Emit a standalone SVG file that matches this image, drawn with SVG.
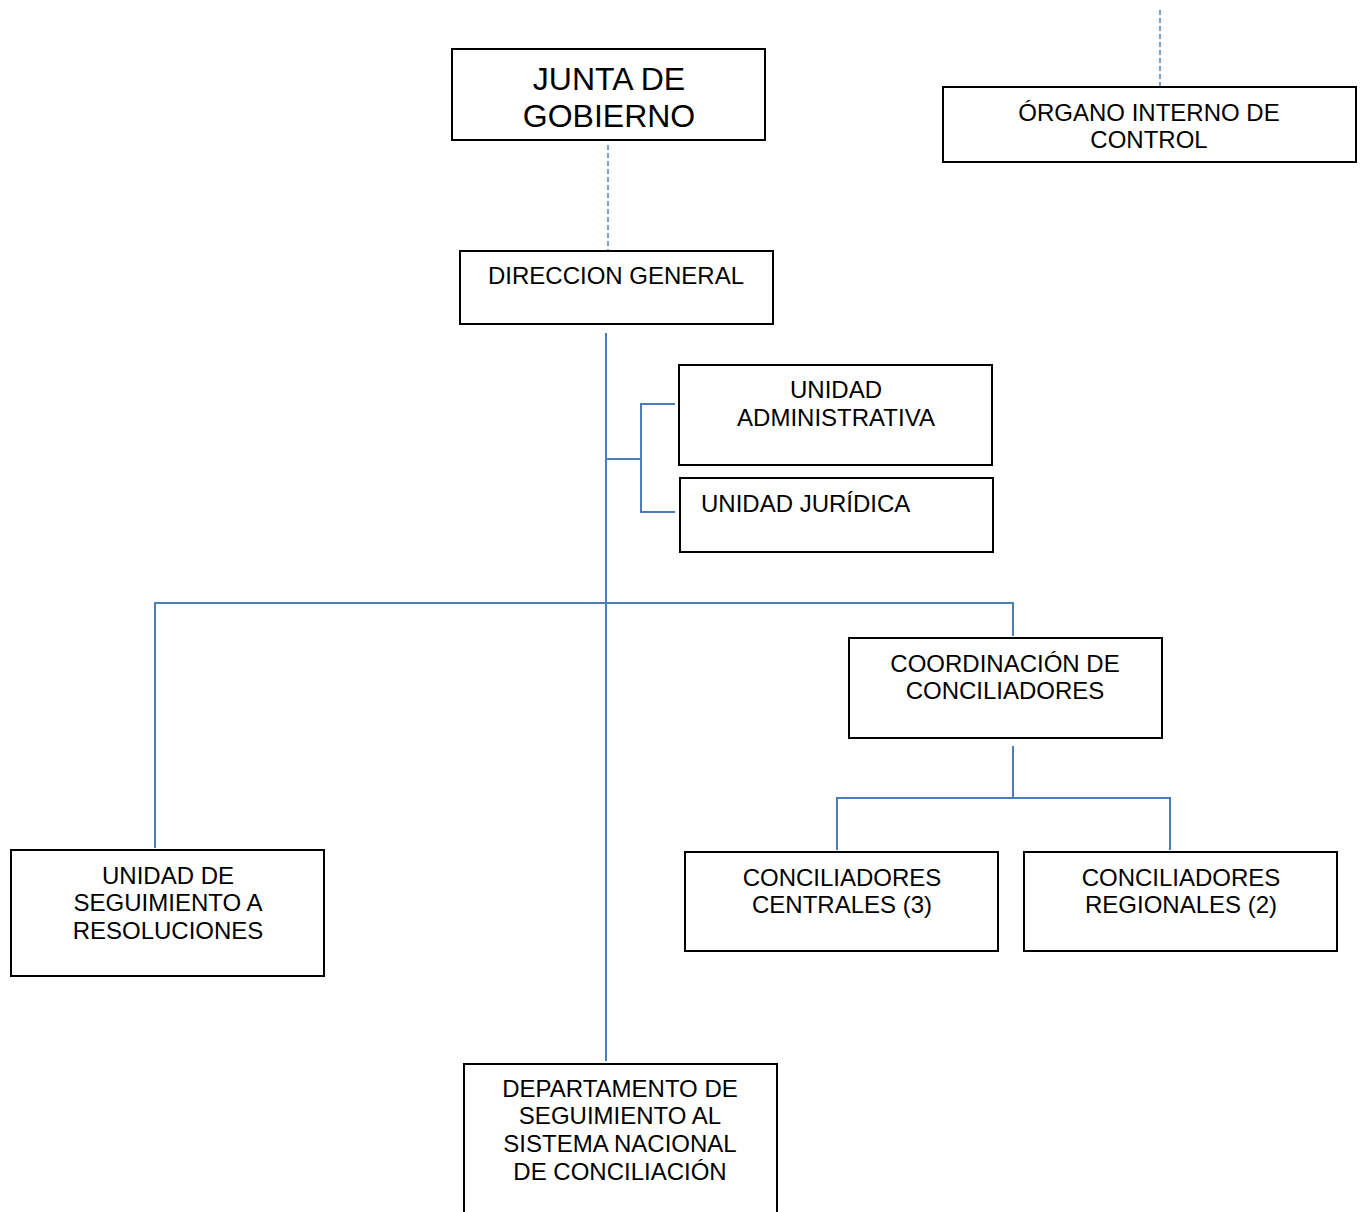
<svg xmlns="http://www.w3.org/2000/svg" width="1363" height="1212" viewBox="0 0 1363 1212">
<style>
.box{fill:#fff;stroke:#000;stroke-width:2}
.t{font-family:"Liberation Sans",Arial,sans-serif;font-size:24px;fill:#000;text-anchor:middle}
.big{font-size:32px}
.ln{stroke:#4a7ebb;stroke-width:2;fill:none}
.dash{stroke:#4a7ebb;stroke-width:1.5;fill:none;stroke-dasharray:5,3}
</style>
<rect width="1363" height="1212" fill="#fff"/>
<g id="connectors">
<line class="dash" x1="608" y1="145" x2="608" y2="250"/>
<line class="dash" x1="1160" y1="10" x2="1160" y2="87"/>
<line class="ln" x1="606" y1="333" x2="606" y2="1061"/>
<polyline class="ln" points="606,459 641,459"/>
<polyline class="ln" points="675,404 641,404 641,512 675,512"/>
<polyline class="ln" points="155,848 155,603 1013,603 1013,636"/>
<line class="ln" x1="1013" y1="746" x2="1013" y2="799"/>
<polyline class="ln" points="837,850 837,798 1170,798 1170,850"/>
</g>
<g id="junta">
<rect class="box" x="452" y="49" width="313" height="91"/>
<text class="t big" x="609" y="90">JUNTA DE</text>
<text class="t big" x="609" y="127">GOBIERNO</text>
</g>
<g id="organo">
<rect class="box" x="943" y="87" width="413" height="75"/>
<text class="t" x="1149" y="121">ÓRGANO INTERNO DE</text>
<text class="t" x="1149" y="148">CONTROL</text>
</g>
<g id="direccion">
<rect class="box" x="460" y="251" width="313" height="73"/>
<text class="t" x="616" y="284">DIRECCION GENERAL</text>
</g>
<g id="unidad-administrativa">
<rect class="box" x="679" y="365" width="313" height="100"/>
<text class="t" x="836" y="398">UNIDAD</text>
<text class="t" x="836" y="426">ADMINISTRATIVA</text>
</g>
<g id="unidad-juridica">
<rect class="box" x="680" y="478" width="313" height="74"/>
<text class="t" x="701" y="512" style="text-anchor:start">UNIDAD JURÍDICA</text>
</g>
<g id="coordinacion">
<rect class="box" x="849" y="638" width="313" height="100"/>
<text class="t" x="1005" y="672">COORDINACIÓN DE</text>
<text class="t" x="1005" y="699">CONCILIADORES</text>
</g>
<g id="centrales">
<rect class="box" x="685" y="852" width="313" height="99"/>
<text class="t" x="842" y="886">CONCILIADORES</text>
<text class="t" x="842" y="913">CENTRALES (3)</text>
</g>
<g id="regionales">
<rect class="box" x="1024" y="852" width="313" height="99"/>
<text class="t" x="1181" y="886">CONCILIADORES</text>
<text class="t" x="1181" y="913">REGIONALES (2)</text>
</g>
<g id="seguimiento-resoluciones">
<rect class="box" x="11" y="850" width="313" height="126"/>
<text class="t" x="168" y="884">UNIDAD DE</text>
<text class="t" x="168" y="911">SEGUIMIENTO A</text>
<text class="t" x="168" y="939">RESOLUCIONES</text>
</g>
<g id="departamento">
<rect class="box" x="464" y="1064" width="313" height="160"/>
<text class="t" x="620" y="1097">DEPARTAMENTO DE</text>
<text class="t" x="620" y="1124">SEGUIMIENTO AL</text>
<text class="t" x="620" y="1152">SISTEMA NACIONAL</text>
<text class="t" x="620" y="1180">DE CONCILIACIÓN</text>
</g>
</svg>
